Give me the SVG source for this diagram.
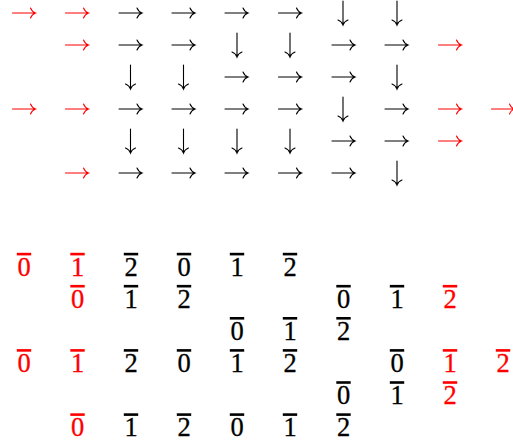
<svg xmlns="http://www.w3.org/2000/svg" width="513" height="441" viewBox="0 0 513 441">
<style>
.k{stroke:#000;color:#000;fill:#000}
.r{stroke:#f00;color:#f00;fill:#f00}
.t{font-family:'Liberation Serif','DejaVu Serif',serif;font-size:26.5px;text-anchor:middle;stroke-width:0.3}
</style>
<defs>
<path id="R" d="M-11.5,0 H11.5 M6.5,-5 Q8,-1.2 11.5,0 Q8,1.2 6.5,5" fill="none" stroke="currentColor" stroke-width="1.1" stroke-linecap="round"/>
<path id="D" d="M0,-12 V12 M-5,7 Q-1.2,8.5 0,12 Q1.2,8.5 5,7" fill="none" stroke="currentColor" stroke-width="1.1" stroke-linecap="round"/>
<rect id="O" x="-7.2" y="-0.2" width="14.4" height="2.6" stroke="none"/>
</defs>
<g id="arrows">
<g id="arow1" transform="translate(0,13)">
<use href="#R" x="24" class="r"/><use href="#R" x="77" class="r"/><use href="#R" x="130.5" class="k"/><use href="#R" x="183.5" class="k"/><use href="#R" x="236.5" class="k"/><use href="#R" x="290" class="k"/><use href="#D" x="343" class="k"/><use href="#D" x="397" class="k"/>
</g>
<g id="arow2" transform="translate(0,45)">
<use href="#R" x="77" class="r"/><use href="#R" x="130.5" class="k"/><use href="#R" x="183.5" class="k"/><use href="#D" x="237" class="k"/><use href="#D" x="290" class="k"/><use href="#R" x="343.5" class="k"/><use href="#R" x="396.5" class="k"/><use href="#R" x="450" class="r"/>
</g>
<g id="arow3" transform="translate(0,77)">
<use href="#D" x="130.5" class="k"/><use href="#D" x="183.5" class="k"/><use href="#R" x="236.5" class="k"/><use href="#R" x="290" class="k"/><use href="#R" x="343.5" class="k"/><use href="#D" x="397" class="k"/>
</g>
<g id="arow4" transform="translate(0,109)">
<use href="#R" x="24" class="r"/><use href="#R" x="77" class="r"/><use href="#R" x="130.5" class="k"/><use href="#R" x="183.5" class="k"/><use href="#R" x="236.5" class="k"/><use href="#R" x="290" class="k"/><use href="#D" x="343" class="k"/><use href="#R" x="396.5" class="k"/><use href="#R" x="450" class="r"/><use href="#R" x="503" class="r"/>
</g>
<g id="arow5" transform="translate(0,141)">
<use href="#D" x="130.5" class="k"/><use href="#D" x="183.5" class="k"/><use href="#D" x="237" class="k"/><use href="#D" x="290" class="k"/><use href="#R" x="343.5" class="k"/><use href="#R" x="396.5" class="k"/><use href="#R" x="450" class="r"/>
</g>
<g id="arow6" transform="translate(0,173)">
<use href="#R" x="77" class="r"/><use href="#R" x="130.5" class="k"/><use href="#R" x="183.5" class="k"/><use href="#R" x="236.5" class="k"/><use href="#R" x="290" class="k"/><use href="#R" x="343.5" class="k"/><use href="#D" x="397" class="k"/>
</g>
</g>
<g id="digits">
<g id="drow1" transform="translate(0,253)">
<g class="r"><use href="#O" x="24"/><text class="t" x="24" y="22.8">0</text></g>
<g class="r"><use href="#O" x="77.5"/><text class="t" x="77.5" y="22.8">1</text></g>
<g class="k"><use href="#O" x="131"/><text class="t" x="131" y="22.8">2</text></g>
<g class="k"><use href="#O" x="184"/><text class="t" x="184" y="22.8">0</text></g>
<g class="k"><use href="#O" x="237"/><text class="t" x="237" y="22.8">1</text></g>
<g class="k"><use href="#O" x="290"/><text class="t" x="290" y="22.8">2</text></g>
</g>
<g id="drow2" transform="translate(0,285.1)">
<g class="r"><use href="#O" x="77.5"/><text class="t" x="77.5" y="22.8">0</text></g>
<g class="k"><use href="#O" x="131"/><text class="t" x="131" y="22.8">1</text></g>
<g class="k"><use href="#O" x="184"/><text class="t" x="184" y="22.8">2</text></g>
<g class="k"><use href="#O" x="343.5"/><text class="t" x="343.5" y="22.8">0</text></g>
<g class="k"><use href="#O" x="397"/><text class="t" x="397" y="22.8">1</text></g>
<g class="r"><use href="#O" x="450"/><text class="t" x="450" y="22.8">2</text></g>
</g>
<g id="drow3" transform="translate(0,317.2)">
<g class="k"><use href="#O" x="237"/><text class="t" x="237" y="22.8">0</text></g>
<g class="k"><use href="#O" x="290"/><text class="t" x="290" y="22.8">1</text></g>
<g class="k"><use href="#O" x="343.5"/><text class="t" x="343.5" y="22.8">2</text></g>
</g>
<g id="drow4" transform="translate(0,349.3)">
<g class="r"><use href="#O" x="24"/><text class="t" x="24" y="22.8">0</text></g>
<g class="r"><use href="#O" x="77.5"/><text class="t" x="77.5" y="22.8">1</text></g>
<g class="k"><use href="#O" x="131"/><text class="t" x="131" y="22.8">2</text></g>
<g class="k"><use href="#O" x="184"/><text class="t" x="184" y="22.8">0</text></g>
<g class="k"><use href="#O" x="237"/><text class="t" x="237" y="22.8">1</text></g>
<g class="k"><use href="#O" x="290"/><text class="t" x="290" y="22.8">2</text></g>
<g class="k"><use href="#O" x="397"/><text class="t" x="397" y="22.8">0</text></g>
<g class="r"><use href="#O" x="450"/><text class="t" x="450" y="22.8">1</text></g>
<g class="r"><use href="#O" x="503"/><text class="t" x="503" y="22.8">2</text></g>
</g>
<g id="drow5" transform="translate(0,381.4)">
<g class="k"><use href="#O" x="343.5"/><text class="t" x="343.5" y="22.8">0</text></g>
<g class="k"><use href="#O" x="397"/><text class="t" x="397" y="22.8">1</text></g>
<g class="r"><use href="#O" x="450"/><text class="t" x="450" y="22.8">2</text></g>
</g>
<g id="drow6" transform="translate(0,413.5)">
<g class="r"><use href="#O" x="77.5"/><text class="t" x="77.5" y="22.8">0</text></g>
<g class="k"><use href="#O" x="131"/><text class="t" x="131" y="22.8">1</text></g>
<g class="k"><use href="#O" x="184"/><text class="t" x="184" y="22.8">2</text></g>
<g class="k"><use href="#O" x="237"/><text class="t" x="237" y="22.8">0</text></g>
<g class="k"><use href="#O" x="290"/><text class="t" x="290" y="22.8">1</text></g>
<g class="k"><use href="#O" x="343.5"/><text class="t" x="343.5" y="22.8">2</text></g>
</g>
</g>
</svg>
